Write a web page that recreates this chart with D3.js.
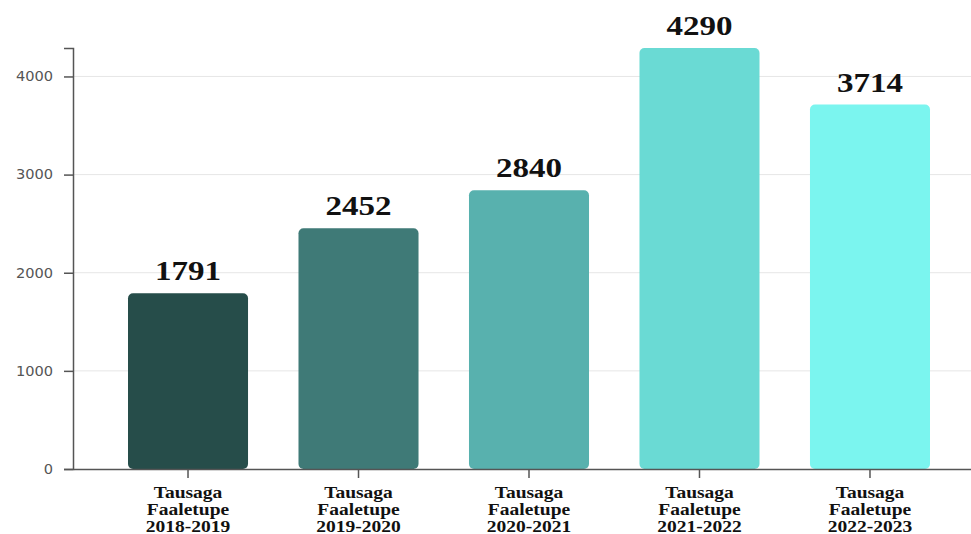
<!DOCTYPE html>
<html><head><meta charset="utf-8">
<script src="https://cdn.jsdelivr.net/npm/d3@7"></script>
<style>body{margin:0;background:#fff}</style>
</head><body>
<svg id="chart" width="971" height="534"></svg>
<script>
const categories = ["Tausaga Faaletupe 2018-2019","Tausaga Faaletupe 2019-2020","Tausaga Faaletupe 2020-2021","Tausaga Faaletupe 2021-2022","Tausaga Faaletupe 2022-2023"];
const values = [1791, 2452, 2840, 4290, 3714];
const colors = ["#264d4a","#3f7a77","#58b1ae","#6adad4","#7bf5ef"];
const yTicks = [0, 1000, 2000, 3000, 4000];

(function(){
const svg = d3.select("#chart");
const mLeft = 73, mBottom = 469, mTop = 48, mRight = 985, viewRight = 971;
const sx = 1.18;
const x = d3.scaleBand().domain(categories).range([mLeft, mRight]).paddingInner(0.296).paddingOuter(0.3226);
const y = d3.scaleLinear().domain([0, d3.max(values)]).range([mBottom, mTop]);

// grid
svg.append("g").selectAll("line").data(yTicks.slice(1)).join("line")
  .attr("x1", mLeft).attr("x2", viewRight).attr("y1", d => y(d)).attr("y2", d => y(d))
  .attr("stroke", "#e6e6e6").attr("stroke-width", 1);

// bars
svg.append("g").selectAll("rect").data(values).join("rect")
  .attr("x", (d,i) => x(categories[i])).attr("width", x.bandwidth())
  .attr("y", d => y(d)).attr("height", d => mBottom - y(d))
  .attr("rx", 5).attr("ry", 5)
  .attr("fill", (d,i) => colors[i]);

// value labels
svg.append("g").selectAll("text").data(values).join("text")
  .attr("transform", (d,i) => `translate(${x(categories[i]) + x.bandwidth()/2},${y(d) - 13}) scale(${sx},1)`)
  .attr("text-anchor", "middle")
  .attr("font-family", "'Liberation Serif','Times New Roman',serif")
  .attr("font-weight", "bold").attr("font-size", 28).attr("fill", "#111")
  .text(d => d);

// y axis
const ya = svg.append("g").attr("transform", `translate(${mLeft},0)`)
  .call(d3.axisLeft(y).tickValues(yTicks).tickFormat(d3.format("d")).tickSize(9).tickPadding(11));
ya.select(".domain").attr("stroke", "#555").attr("stroke-width", 1.5);
ya.selectAll(".tick line").attr("stroke", "#555").attr("stroke-width", 1.5);
ya.selectAll("text").attr("font-family", "'DejaVu Sans',Verdana,sans-serif").attr("font-size", 13.5).attr("fill", "#555")
  .attr("x", 0).attr("transform", `translate(-20,0) scale(1.08,1)`);

// x axis
const xa = svg.append("g").attr("transform", `translate(0,${mBottom})`)
  .call(d3.axisBottom(x).tickSize(9).tickSizeOuter(0).tickFormat(""));
xa.select(".domain").attr("stroke", "#555").attr("stroke-width", 1.5);
xa.selectAll(".tick line").attr("stroke", "#555").attr("stroke-width", 1.5);
xa.selectAll(".tick").each(function(d) {
  const parts = d.split(" ");
  const t = d3.select(this).append("text")
    .attr("text-anchor", "middle").attr("fill", "#111")
    .attr("transform", `scale(1.22,1)`)
    .attr("font-family", "'Liberation Serif','Times New Roman',serif")
    .attr("font-weight", "bold").attr("font-size", 16);
  parts.forEach((p, i) => t.append("tspan").attr("x", 0).attr("y", 29 + i*17).text(p));
});
})();
</script>
</body></html>
